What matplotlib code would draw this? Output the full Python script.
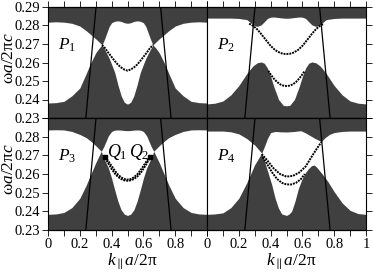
import numpy as np
import matplotlib
matplotlib.use("Agg")
import matplotlib.pyplot as plt

# ---- band edges (k_par a/2pi, omega a/2pi c) ----
# P1
k1 = [0, .05, .10, .15, .20, .24, .27, .30, .32, .34, .355, .37, .385, .40, .42, .44, .46, .48, .50,
      .52, .54, .56, .58, .60, .615, .63, .645, .66, .68, .70, .73, .76, .80, .85, .90, .95, 1.0]
up1 = [.2818, .2820, .2818, .2812, .2797, .2772, .2750, .2728, .2712, .2695, .2725, .2760, .2795, .2815,
       .2823, .2825, .2822, .2815, .2812,
       .2815, .2822, .2825, .2823, .2815, .2795, .2760, .2725, .2695, .2712, .2728, .2750, .2772, .2797,
       .2812, .2818, .2820, .2818]
lo1 = [.2381, .2383, .2390, .2420, .2462, .2540, .2600, .2652, .2676, .2695, .2672, .2648, .2622, .2590,
       .2545, .2478, .2420, .2385, .2375,
       .2385, .2420, .2478, .2545, .2590, .2622, .2648, .2672, .2695, .2676, .2652, .2600, .2540, .2462,
       .2420, .2390, .2383, .2381]
km1 = [.34, .36, .38, .40, .42, .44, .46, .48, .50, .52, .54, .56, .58, .60, .62, .64, .66]
wm1 = [.2695, .2676, .2652, .2630, .2608, .2588, .2573, .2562, .2556, .2562, .2573, .2588, .2608, .2630,
       .2652, .2676, .2695]

# P2
k2 = [0, .05, .10, .15, .20, .25, .27, .29, .315, .34, .36, .38, .40, .42, .45, .48, .50,
      .52, .55, .58, .60, .62, .64, .66, .685, .71, .73, .75, .80, .85, .90, .95, 1.0]
up2 = [.2840, .2840, .2840, .2840, .2838, .2832, .2818, .2803, .2795, .2803, .2820, .2838, .2845, .2846,
       .2843, .2840, .2839,
       .2840, .2843, .2846, .2845, .2838, .2820, .2803, .2795, .2803, .2818, .2832, .2838, .2840, .2840,
       .2840, .2840]
lo2 = [.2376, .2380, .2392, .2425, .2475, .2540, .2562, .2582, .2598, .2603, .2596, .2570, .2525, .2470,
       .2400, .2368, .2366,
       .2368, .2400, .2470, .2525, .2570, .2596, .2603, .2598, .2582, .2562, .2540, .2475, .2425, .2392,
       .2380, .2376]
km2a = [.265, .29, .315, .34, .37, .40, .43, .46, .48, .50, .52, .54, .57, .60, .63, .66, .685, .71, .735]
wm2a = [.2810, .2798, .2780, .2755, .2722, .2690, .2666, .2652, .2647, .2646, .2647, .2652, .2666, .2690,
        .2722, .2755, .2780, .2798, .2810]
km2b = [.385, .40, .42, .44, .46, .48, .50, .52, .54, .56, .58, .60, .615]
wm2b = [.2555, .2536, .2513, .2495, .2482, .2475, .2473, .2475, .2482, .2495, .2513, .2536, .2555]

# P3
k3 = [0, .05, .10, .15, .20, .24, .27, .30, .335, .35, .365, .38, .40, .42, .44, .46, .48, .50,
      .52, .54, .56, .58, .60, .62, .635, .65, .665, .70, .73, .76, .80, .85, .90, .95, 1.0]
up3 = [.2836, .2837, .2836, .2828, .2812, .2795, .2775, .2752, .2722, .2745, .2775, .2805, .2828, .2835,
       .2836, .2835, .2833, .2832,
       .2833, .2835, .2836, .2835, .2828, .2805, .2775, .2745, .2722, .2752, .2775, .2795, .2812, .2828,
       .2836, .2837, .2836]
lo3 = [.2384, .2386, .2394, .2420, .2470, .2540, .2600, .2660, .2722, .2688, .2660, .2632, .2577, .2513,
       .2453, .2408, .2385, .2378,
       .2385, .2408, .2453, .2513, .2577, .2632, .2660, .2688, .2722, .2660, .2600, .2540, .2470, .2420,
       .2394, .2386, .2384]
km3 = [.36, .38, .40, .42, .44, .46, .48, .50, .52, .54, .56, .58, .60, .62, .64]
wm3a = [.2692, .2668, .2643, .2618, .2597, .2582, .2573, .2570, .2573, .2582, .2597, .2618, .2643, .2668,
        .2692]
wm3b = [.2686, .2655, .2627, .2603, .2585, .2573, .2566, .2564, .2566, .2573, .2585, .2603, .2627, .2655,
        .2686]
kq = [.36, .64]
wq = [.2689, .2689]

# P4
ku4 = [0, .05, .10, .15, .20, .25, .30, .344, .36, .38, .40, .43, .46, .50, .55, .59, .62, .65, .68, .72,
       .74, .77, .80, .85, .90, .95, 1.0]
up4 = [.2830, .2830, .2830, .2826, .2815, .2790, .2755, .2712, .2745, .2790, .2822, .2828, .2826, .2825,
       .2828, .2832, .2820, .2805, .2790, .2774, .2793, .2812, .2822, .2828, .2830, .2830, .2830]
kl4 = [0, .05, .10, .15, .20, .25, .30, .344, .36, .375, .39, .407, .428, .449, .47, .50, .515, .532, .553,
       .574, .595, .616, .637, .658, .675, .69, .72, .76, .80, .85, .90, .95, 1.0]
lo4 = [.2384, .2386, .2392, .2420, .2470, .2553, .2650, .2712, .2670, .2632, .2590, .2543, .2471, .2418,
       .2386, .2378, .2385, .2400, .2453, .2520, .2568, .2603, .2628, .2645, .2648, .2636, .2605, .2560,
       .2505, .2445, .2405, .2388, .2384]
km4a = [.344, .375, .417, .459, .50, .54, .58, .62, .66, .69, .72]
wm4a = [.2707, .2677, .2632, .2600, .2586, .2590, .2608, .2640, .2695, .2735, .2772]
km4b = [.35, .38, .41, .44, .47, .50, .53, .56, .59, .615]
wm4b = [.2690, .2650, .2608, .2574, .2553, .2544, .2544, .2553, .2572, .2600]

# light lines (k at omega = 0.23 and 0.29)
light_w = [0.23, 0.29]
light_left = [0.238, 0.302]
light_right = [0.774, 0.708]

xt = [0, .1, .2, .3, .4, .5, .6, .7, .8, .9, 1.0]
xtl_left = ["0", "", "0.2", "", "0.4", "", "0.6", "", "0.8", "", ""]
xtl_right = ["0", "", "0.2", "", "0.4", "", "0.6", "", "0.8", "", "1"]
yt = [.23, .24, .25, .26, .27, .28, .29]
ytl_top = ["0.23", "0.24", "0.25", "0.26", "0.27", "0.28", "0.29"]
ytl_bot = ["0.23", "0.24", "0.25", "0.26", "0.27", "0.28", ""]

plt.rcParams["font.family"] = "Liberation Serif"
plt.rcParams["mathtext.fontset"] = "custom"
plt.rcParams["mathtext.rm"] = "Liberation Serif"
plt.rcParams["mathtext.it"] = "Liberation Serif:italic"

DARK = "#404040"
W, H = 374, 273

fig = plt.figure(figsize=(W / 100, H / 100), dpi=100)


def make_ax(x0, x1, y0, y1):
    # pixel box -> figure fraction
    return fig.add_axes([x0 / W, 1 - y1 / H, (x1 - x0) / W, (y1 - y0) / H])


ax1 = make_ax(48, 207, 7, 118)
ax2 = make_ax(207, 366, 7, 118)
ax3 = make_ax(48, 207, 118, 230)
ax4 = make_ax(207, 366, 118, 230)

panels = [
    (ax1, k1, up1, k1, lo1, "$P_1$"),
    (ax2, k2, up2, k2, lo2, "$P_2$"),
    (ax3, k3, up3, k3, lo3, "$P_3$"),
    (ax4, ku4, up4, kl4, lo4, "$P_4$"),
]

for ax, ku, wu, kl, wl, name in panels:
    ax.set_xlim(0, 1)
    ax.set_ylim(0.23, 0.29)
    ax.fill_between(ku, wu, 0.29, color=DARK, lw=0, zorder=1)
    ax.fill_between(kl, 0.23, wl, color=DARK, lw=0, zorder=1)
    ax.plot(light_left, light_w, color="k", lw=0.9, zorder=3)
    ax.plot(light_right, light_w, color="k", lw=0.9, zorder=3)
    ax.text(0.065, 0.2672, name, fontsize=12.5, zorder=4)
    ax.set_xticks(xt)
    ax.set_yticks(yt)
    ax.tick_params(direction="out", length=4, width=0.6, labelsize=10.5, pad=2)
    for s in ["top", "bottom"]:
        ax.spines[s].set_linestyle((0, (1, 1)))
        ax.spines[s].set_linewidth(0.9)
    for s in ["left", "right"]:
        ax.spines[s].set_linewidth(0.8)

# defect modes
mode_style = dict(color="k", lw=1.4, ls=(0, (1.0, 0.5)), zorder=2)
ax1.plot(km1, wm1, **mode_style)
ax2.plot(km2a, wm2a, **mode_style)
ax2.plot(km2b, wm2b, **mode_style)
ax3.plot(km3, wm3a, **mode_style)
ax3.plot(km3, wm3b, **mode_style)
ax3.plot(kq, wq, "s", color="k", ms=2.5, zorder=4)
ax3.text(0.37, 0.2693, "$Q_1$", fontsize=13, zorder=4)
ax3.text(0.51, 0.2693, "$Q_2$", fontsize=13, zorder=4)
ax4.plot(km4a, wm4a, **mode_style)
ax4.plot(km4b, wm4b, **mode_style)

# ticks and labels
for ax in (ax1, ax2):
    ax.tick_params(axis="x", top=True, bottom=False, labeltop=False, labelbottom=False)
for ax in (ax3, ax4):
    ax.tick_params(axis="x", top=False, bottom=True)
for ax in (ax1, ax3):
    ax.tick_params(axis="y", left=True, right=False)
for ax in (ax2, ax4):
    ax.tick_params(axis="y", left=False, right=True, labelleft=False)

ax1.set_yticklabels(ytl_top)
ax3.set_yticklabels(ytl_bot)
ax3.set_xticklabels(xtl_left)
ax4.set_xticklabels(xtl_right)

ylab = r"$\mathrm{\omega}a/2\mathrm{\pi}c$"
xlab = r"$k_{\parallel}a/2\mathrm{\pi}$"
for ax in (ax1, ax3):
    ax.set_ylabel(ylab, fontsize=12.5)
    ax.yaxis.set_label_coords(-0.197, 0.54)
for ax in (ax3, ax4):
    ax.set_xlabel(xlab, fontsize=12.5)
    ax.xaxis.set_label_coords(0.53, -0.19)

fig.savefig("out.png", dpi=100)
